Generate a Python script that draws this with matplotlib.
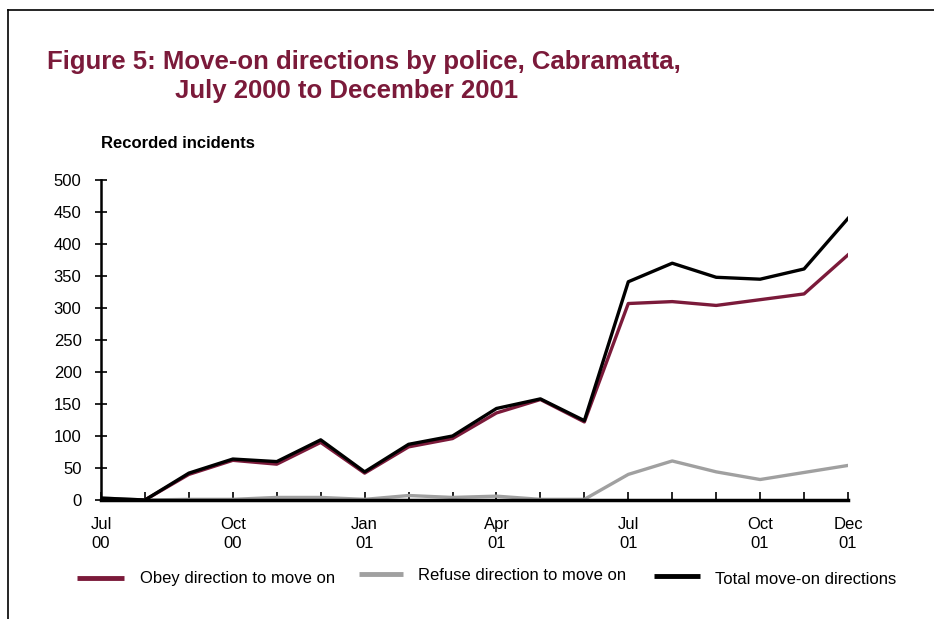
import matplotlib
matplotlib.use("Agg")
import matplotlib.pyplot as plt
from matplotlib.lines import Line2D

months = ["Jul 00", "Aug 00", "Sep 00", "Oct 00", "Nov 00", "Dec 00",
          "Jan 01", "Feb 01", "Mar 01", "Apr 01", "May 01", "Jun 01",
          "Jul 01", "Aug 01", "Sep 01", "Oct 01", "Nov 01", "Dec 01"]
obey = [1, 0, 40, 62, 56, 90, 42, 83, 96, 136, 157, 122, 307, 310, 304, 313, 322, 383]
refuse = [3, 0, 1, 1, 4, 4, 1, 7, 4, 6, 1, 1, 40, 61, 44, 32, 43, 54]
total = [3, 0, 42, 64, 60, 94, 44, 87, 100, 143, 158, 124, 341, 370, 348, 345, 361, 440]
tick_idx = [0, 3, 6, 9, 12, 15, 17]
tick_labels = ["Jul\n00", "Oct\n00", "Jan\n01", "Apr\n01", "Jul\n01", "Oct\n01", "Dec\n01"]
yticks = list(range(0, 501, 50))
series_labels = ["Obey direction to move on", "Refuse direction to move on", "Total move-on directions"]

MAROON = "#7B1A3A"
GREY = "#A0A0A0"
FONT = 'Liberation Sans'

fig = plt.figure(figsize=(9.34, 6.19), dpi=100)
ax = fig.add_axes([101/934, 1-500/619, 747/934, 320/619])

x = list(range(len(months)))
ax.plot(x, obey, color=MAROON, lw=2.4)
ax.plot(x, refuse, color=GREY, lw=2.4)
ax.plot(x, total, color="black", lw=2.4)

ax.set_xlim(0, len(months)-1)
ax.set_ylim(0, 500)
ax.set_yticks(yticks)
ax.set_yticklabels([str(v) for v in yticks], fontfamily=FONT, fontsize=12)
ax.set_xticks(x, minor=True)
ax.set_xticks(tick_idx)
ax.set_xticklabels(tick_labels, fontfamily=FONT, fontsize=12, linespacing=1.4)
ax.tick_params(axis='x', which='both', direction='in', length=6, width=1.2, pad=12)
ax.tick_params(axis='y', direction='inout', length=8, width=1.2, pad=10)
for s in ['top', 'right']:
    ax.spines[s].set_visible(False)
ax.spines['bottom'].set_linewidth(2.5)
ax.spines['left'].set_linewidth(1.8)
ax.patch.set_visible(False)

fig.text(47/934, 1-62/619, "Figure 5: Move-on directions by police, Cabramatta,",
         fontfamily=FONT, fontweight='bold', fontsize=18.5, color=MAROON,
         va='center', ha='left')
fig.text(175/934, 1-91/619, "July 2000 to December 2001",
         fontfamily=FONT, fontweight='bold', fontsize=18.5, color=MAROON,
         va='center', ha='left')
fig.text(101/934, 1-144/619, "Recorded incidents", fontfamily=FONT,
         fontweight='bold', fontsize=12, va='center', ha='left')

# legend drawn manually
leg_lines = [(77, 124, 578), (359, 403, 574), (654, 700, 576)]
leg_text_x = [140, 418, 715]
leg_text_y = [579, 576, 579]
for (x0, x1, yy), tx, ty, col, lab in zip(leg_lines, leg_text_x, leg_text_y,
                                          [MAROON, GREY, 'black'], series_labels):
    fig.add_artist(Line2D([x0/934, x1/934], [1-yy/619, 1-yy/619], transform=fig.transFigure,
                          color=col, lw=3.5, solid_capstyle='butt'))
    fig.text(tx/934, 1-ty/619, lab, fontfamily=FONT, fontsize=12, va='center', ha='left')

# frame
fig.add_artist(Line2D([8/934, 8/934], [0, 1-10/619], transform=fig.transFigure, color='black', lw=1.2))
fig.add_artist(Line2D([8/934, 1], [1-10/619, 1-10/619], transform=fig.transFigure, color='black', lw=1.2))

fig.savefig("out.png", dpi=100)
